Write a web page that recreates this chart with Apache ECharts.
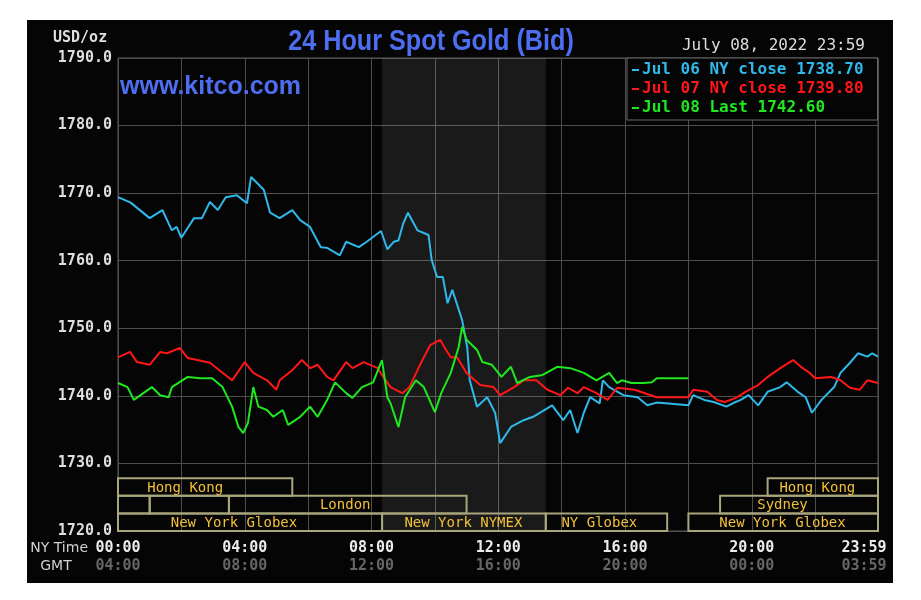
<!DOCTYPE html>
<html>
<head>
<meta charset="utf-8">
<script src="https://cdn.jsdelivr.net/npm/echarts@6/dist/echarts.min.js"></script>
<style>
  html, body { margin: 0; padding: 0; background: #ffffff; }
  #panel { position: absolute; left: 27px; top: 20px; width: 866px; height: 563px; background: #050505; }
  #chart { position: absolute; left: 0; top: 0; width: 921px; height: 600px; }
</style>
</head>
<body>
<div id="panel"></div>
<div id="chart"></div>
<script>
// ---- Data (NY time in hours, price USD/oz) ----
var blueName = 'Jul 06 NY close 1738.70';
var redName = 'Jul 07 NY close 1739.80';
var greenName = 'Jul 08 Last 1742.60';

var blueHours = [0, 0.4, 1.0, 1.4, 1.7, 1.85, 2.0, 2.4, 2.65, 2.9, 3.15, 3.4, 3.75, 4.07, 4.2, 4.6, 4.8, 5.1, 5.5, 5.75, 6.06, 6.4, 6.6, 7.0, 7.2, 7.6, 7.85, 8.3, 8.5, 8.7, 8.85, 9.0, 9.15, 9.45, 9.8, 9.9, 10.07, 10.25, 10.4, 10.55, 10.86, 11.02, 11.1, 11.33, 11.65, 11.9, 12.06, 12.4, 12.8, 13.1, 13.7, 14.05, 14.27, 14.5, 14.7, 14.9, 15.2, 15.3, 15.5, 15.95, 16.4, 16.7, 17.0, 18.0, 18.15, 18.5, 18.8, 19.2, 19.4, 19.65, 19.9, 20.2, 20.5, 20.9, 21.1, 21.45, 21.7, 21.9, 22.2, 22.6, 22.8, 23.1, 23.35, 23.65, 23.8, 23.98];
var blueValues = [1769.4, 1768.6, 1766.3, 1767.5, 1764.5, 1765.0, 1763.4, 1766.3, 1766.3, 1768.7, 1767.5, 1769.4, 1769.7, 1768.5, 1772.4, 1770.5, 1767.1, 1766.3, 1767.5, 1766.0, 1765.0, 1762.0, 1761.9, 1760.8, 1762.8, 1762.0, 1762.8, 1764.4, 1761.7, 1762.8, 1763.0, 1765.5, 1767.1, 1764.5, 1763.8, 1760.1, 1757.6, 1757.6, 1753.7, 1755.7, 1751.2, 1747.2, 1742.3, 1738.4, 1739.8, 1737.5, 1733.0, 1735.4, 1736.4, 1736.9, 1738.6, 1736.4, 1737.9, 1734.5, 1737.5, 1739.8, 1738.9, 1742.3, 1741.3, 1740.1, 1739.8, 1738.6, 1739.0, 1738.6, 1740.1, 1739.4, 1739.1, 1738.4, 1738.9, 1739.4, 1740.1, 1738.6, 1740.6, 1741.3, 1742.0, 1740.6, 1739.8, 1737.5, 1739.4, 1741.3, 1743.4, 1744.9, 1746.3, 1745.8, 1746.3, 1745.8];

var redHours = [0, 0.38, 0.6, 1.0, 1.33, 1.55, 1.95, 2.2, 2.5, 2.9, 3.2, 3.6, 4.0, 4.27, 4.7, 5.0, 5.1, 5.5, 5.8, 6.07, 6.3, 6.6, 6.8, 7.2, 7.4, 7.75, 8.2, 8.37, 8.6, 8.97, 9.2, 9.5, 9.85, 10.17, 10.3, 10.5, 10.7, 11.0, 11.43, 11.85, 12.06, 12.5, 12.8, 13.2, 13.55, 13.96, 14.2, 14.5, 14.7, 15.1, 15.45, 15.75, 16.3, 17.0, 18.0, 18.15, 18.6, 18.9, 19.15, 19.5, 19.8, 20.2, 20.5, 20.9, 21.3, 21.55, 21.8, 22.0, 22.5, 22.8, 23.1, 23.4, 23.65, 23.98];
var redValues = [1745.7, 1746.5, 1745.0, 1744.6, 1746.5, 1746.3, 1747.1, 1745.6, 1745.3, 1744.9, 1743.8, 1742.3, 1745.0, 1743.4, 1742.3, 1740.9, 1742.3, 1743.8, 1745.3, 1744.1, 1744.6, 1742.8, 1742.3, 1745.0, 1744.1, 1745.0, 1744.1, 1742.8, 1741.3, 1740.4, 1741.3, 1744.3, 1747.5, 1748.3, 1747.2, 1745.7, 1745.7, 1743.4, 1741.6, 1741.3, 1740.1, 1741.3, 1742.3, 1742.3, 1740.9, 1740.1, 1741.2, 1740.4, 1741.3, 1740.4, 1739.4, 1741.2, 1740.9, 1739.8, 1739.8, 1740.9, 1740.6, 1739.4, 1739.1, 1739.7, 1740.6, 1741.6, 1742.8, 1744.1, 1745.3, 1744.3, 1743.5, 1742.6, 1742.8, 1742.3, 1741.2, 1740.9, 1742.3, 1741.9];

var greenHours = [0, 0.3, 0.5, 0.8, 1.07, 1.33, 1.6, 1.7, 2.2, 2.6, 2.97, 3.3, 3.6, 3.8, 3.95, 4.1, 4.27, 4.43, 4.7, 4.9, 5.2, 5.37, 5.75, 6.06, 6.3, 6.6, 6.85, 7.2, 7.4, 7.7, 8.05, 8.33, 8.5, 8.6, 8.85, 9.06, 9.4, 9.65, 10.0, 10.2, 10.5, 10.75, 10.86, 11.0, 11.33, 11.5, 11.8, 12.1, 12.4, 12.6, 13.0, 13.4, 13.86, 14.27, 14.7, 15.1, 15.5, 15.75, 15.9, 16.2, 16.6, 16.85, 17.0, 18.0];
var greenValues = [1741.9, 1741.3, 1739.4, 1740.4, 1741.3, 1740.1, 1739.8, 1741.3, 1742.8, 1742.6, 1742.6, 1741.3, 1738.4, 1735.4, 1734.5, 1736.0, 1741.3, 1738.4, 1737.9, 1736.9, 1737.9, 1735.7, 1736.9, 1738.4, 1736.9, 1739.4, 1742.0, 1740.4, 1739.7, 1741.3, 1742.0, 1745.3, 1739.8, 1738.9, 1735.4, 1739.8, 1742.3, 1741.3, 1737.6, 1740.4, 1743.4, 1747.2, 1750.2, 1748.3, 1746.8, 1745.0, 1744.6, 1742.8, 1744.3, 1741.9, 1742.8, 1743.1, 1744.3, 1744.1, 1743.4, 1742.3, 1743.4, 1741.9, 1742.3, 1741.9, 1741.9, 1742.0, 1742.6, 1742.6];

// Trading sessions: name, start hour, end hour, row (0 = bottom), label anchor hour
var sessionNames = ['Hong Kong', '', '', 'London', 'New York Globex', 'New York NYMEX', 'NY Globex', 'New York Globex', 'Sydney', 'Hong Kong'];
var sessionStart = [0, 0, 1.0, 3.5, 0, 8.3333, 13.5, 18.0, 19.0, 20.5];
var sessionEnd = [5.5, 1.0, 3.5, 11.0, 8.3333, 13.5, 17.33, 23.9833, 23.9833, 23.9833];
var sessionRow = [2, 1, 1, 1, 0, 0, 0, 0, 1, 2];
var sessionLabelAt = [2.12, 0.5, 2.25, 7.17, 3.66, 10.9, 15.19, 20.97, 20.97, 22.07];

var nymexShade = [8.3333, 13.5];
var yMin = 1720, yMax = 1790, yStep = 10;
var xMax = 1439 / 60;

// ---- Build ----
function pairs(h, v) { return h.map(function (x, i) { return [x, v[i]]; }); }
function pad(n) { return (n < 10 ? '0' : '') + n; }

var sessionData = sessionStart.map(function (s, i) {
  return [s, sessionEnd[i], sessionRow[i], sessionLabelAt[i]];
});

var MONO = 'DejaVu Sans Mono';
var BLUE = '#30b8ea', RED = '#ff1717', GREEN = '#1fe81f';

var chart = echarts.init(document.getElementById('chart'), null, { renderer: 'canvas' });

var option = {
  backgroundColor: 'transparent',
  animation: false,
  legend: {
    left: 627, top: 58,
    orient: 'vertical',
    backgroundColor: '#050505',
    borderColor: '#6a6a6a', borderWidth: 1,
    padding: [4, 14, 4, 5],
    itemGap: 3, itemWidth: 7, itemHeight: 2,
    icon: 'rect',
    textStyle: { fontFamily: MONO, fontWeight: 'bold', fontSize: 16, lineHeight: 14, padding: [0, 0, 0, -2] },
    data: [
      { name: blueName, textStyle: { color: BLUE } },
      { name: redName, textStyle: { color: RED } },
      { name: greenName, textStyle: { color: GREEN } }
    ]
  },
  grid: { left: 118, top: 58, width: 760, height: 473, show: true, borderColor: '#5a5a5a', borderWidth: 1, containLabel: false },
  xAxis: {
    type: 'value', min: 0, max: xMax, interval: 2,
    axisLine: { show: false }, axisTick: { show: false },
    splitLine: { show: true, lineStyle: { color: '#4e4e4e', width: 1 } },
    axisLabel: {
      margin: 8,
      formatter: function (v) {
        if (Math.abs(v - xMax) < 0.01) return '{c|23:59}\n{d|03:59}';
        if (Math.round(v) % 4 === 0) {
          var h = Math.round(v);
          return '{a|' + pad(h) + ':00}\n{b|' + pad((h + 4) % 24) + ':00}';
        }
        return '';
      },
      rich: {
        a: { fontFamily: MONO, fontWeight: 'bold', fontSize: 15, color: '#ececec', lineHeight: 18 },
        b: { fontFamily: MONO, fontWeight: 'bold', fontSize: 15, color: '#666666', lineHeight: 18 },
        c: { fontFamily: MONO, fontWeight: 'bold', fontSize: 15, color: '#ececec', lineHeight: 18, padding: [0, 28, 0, 0] },
        d: { fontFamily: MONO, fontWeight: 'bold', fontSize: 15, color: '#666666', lineHeight: 18, padding: [0, 28, 0, 0] }
      }
    }
  },
  yAxis: {
    type: 'value', min: yMin, max: yMax, interval: yStep,
    axisLine: { show: false }, axisTick: { show: false },
    splitLine: { show: true, lineStyle: { color: '#4e4e4e', width: 1 } },
    axisLabel: {
      margin: 6,
      formatter: function (v) { return v.toFixed(1); },
      fontFamily: MONO, fontWeight: 'bold', fontSize: 15, color: '#dedede'
    }
  },
  graphic: [
    { type: 'text', z: 100, x: 431, y: 42, scaleX: 0.84,
      style: { text: '24 Hour Spot Gold (Bid)', x: 0, y: 0, align: 'center', verticalAlign: 'middle', fill: '#4d6ef0', font: 'bold 30px "Liberation Sans", Arial' } },
    { type: 'text', z: 100, style: { text: 'USD/oz', x: 53, y: 38, verticalAlign: 'middle', fill: '#dedede', font: 'bold 15px "DejaVu Sans Mono"' } },
    { type: 'text', z: 100, style: { text: 'July 08, 2022 23:59', x: 865, y: 46, align: 'right', verticalAlign: 'middle', fill: '#dedede', font: '16px "DejaVu Sans Mono"' } },
    { type: 'text', z: 100, style: { text: 'www.kitco.com', x: 120, y: 87, verticalAlign: 'middle', fill: '#4d6ef0', font: 'bold 25px "Liberation Sans", Arial' } },
    { type: 'text', z: 100, style: { text: 'NY Time', x: 88, y: 548, align: 'right', verticalAlign: 'middle', fill: '#d0d0d0', font: '14px "DejaVu Sans"' } },
    { type: 'text', z: 100, style: { text: 'GMT', x: 56, y: 566, align: 'center', verticalAlign: 'middle', fill: '#d0d0d0', font: '14px "DejaVu Sans"' } }
  ],
  series: [
    {
      type: 'custom', name: 'sessions', silent: true, z: 1,
      data: sessionData,
      encode: { x: [0, 1], y: 2 },
      renderItem: function (params, api) {
        var s = api.value(0), e = api.value(1), row = api.value(2), lab = api.value(3);
        var p0 = api.coord([s, yMin]), p1 = api.coord([e, yMin]);
        var rowH = 17.6;
        var yTop = p0[1] - (row + 1) * rowH;
        var lx = api.coord([lab, yMin])[0];
        return {
          type: 'group',
          children: [
            { type: 'rect', shape: { x: p0[0], y: yTop, width: p1[0] - p0[0], height: rowH },
              style: { fill: 'none', stroke: '#a9a67c', lineWidth: 2 } },
            { type: 'text', style: { text: sessionNames[params.dataIndex], x: lx, y: yTop + rowH / 2 + 1,
              align: 'center', verticalAlign: 'middle', fill: '#f2c13a', font: '14px "DejaVu Sans Mono"' } }
          ]
        };
      }
    },
    {
      type: 'line', name: blueName, data: pairs(blueHours, blueValues),
      showSymbol: false, lineStyle: { color: BLUE, width: 2 }, itemStyle: { color: BLUE }, z: 3,
      markArea: {
        silent: true,
        itemStyle: { color: 'rgba(255,255,255,0.085)' },
        data: [[{ xAxis: nymexShade[0] }, { xAxis: nymexShade[1] }]]
      }
    },
    {
      type: 'line', name: redName, data: pairs(redHours, redValues),
      showSymbol: false, lineStyle: { color: RED, width: 2 }, itemStyle: { color: RED }, z: 4
    },
    {
      type: 'line', name: greenName, data: pairs(greenHours, greenValues),
      showSymbol: false, lineStyle: { color: GREEN, width: 2 }, itemStyle: { color: GREEN }, z: 5
    }
  ]
};
chart.setOption(option);
</script>
</body>
</html>
